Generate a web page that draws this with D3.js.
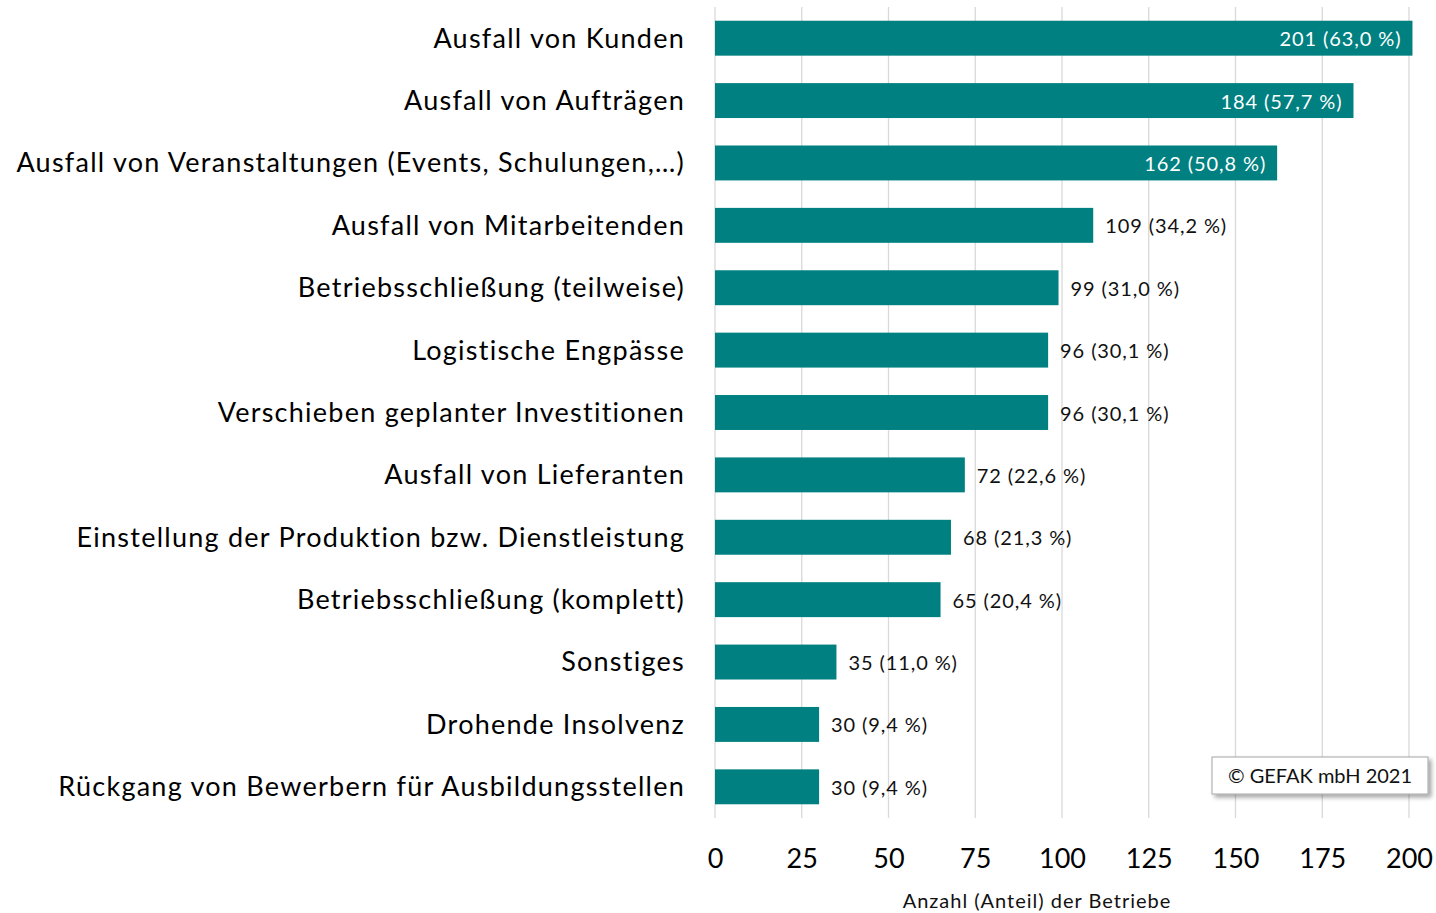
<!DOCTYPE html>
<html>
<head>
<meta charset="utf-8">
<script src="https://cdn.jsdelivr.net/npm/d3@7"></script>
<style>
  body { margin: 0; background: #fff; }
  svg { display: block; font-family: Lato, "Open Sans", sans-serif; }
</style>
</head>
<body>
<svg id="chart" width="1436" height="913"></svg>
<script>
const categories = [
  'Ausfall von Kunden',
  'Ausfall von Aufträgen',
  'Ausfall von Veranstaltungen (Events, Schulungen,…)',
  'Ausfall von Mitarbeitenden',
  'Betriebsschließung (teilweise)',
  'Logistische Engpässe',
  'Verschieben geplanter Investitionen',
  'Ausfall von Lieferanten',
  'Einstellung der Produktion bzw. Dienstleistung',
  'Betriebsschließung (komplett)',
  'Sonstiges',
  'Drohende Insolvenz',
  'Rückgang von Bewerbern für Ausbildungsstellen'
];
const counts = [201, 184, 162, 109, 99, 96, 96, 72, 68, 65, 35, 30, 30];
const shares = ['63,0', '57,7', '50,8', '34,2', '31,0', '30,1', '30,1', '22,6', '21,3', '20,4', '11,0', '9,4', '9,4'];
const ticks = [0, 25, 50, 75, 100, 125, 150, 175, 200];
const insideLabels = 3; // first three bars carry their label inside

const svg = d3.select('#chart');
const plotLeft = 715, plotRight = 1409, plotTop = 7, plotBottom = 818;
const teal = '#008080';

const x = d3.scaleLinear().domain([0, 200]).range([plotLeft, plotRight]);
const y = d3.scaleBand().domain(categories).range([plotTop, plotBottom]).paddingInner(0.44).paddingOuter(0.22);

// gridlines
svg.append('g').selectAll('line')
  .data(ticks)
  .enter().append('line')
  .attr('x1', d => x(d)).attr('x2', d => x(d))
  .attr('y1', plotTop).attr('y2', plotBottom)
  .attr('stroke', '#d9d9d9').attr('stroke-width', 1.3);

// bars
svg.append('g').selectAll('rect')
  .data(counts)
  .enter().append('rect')
  .attr('x', x(0))
  .attr('y', (d, i) => y(categories[i]))
  .attr('width', d => x(d) - x(0))
  .attr('height', y.bandwidth())
  .attr('fill', teal);

// value labels
svg.append('g').selectAll('text')
  .data(counts)
  .enter().append('text')
  .attr('x', (d, i) => i < insideLabels ? x(d) - 11 : x(d) + 12)
  .attr('y', (d, i) => y(categories[i]) + y.bandwidth() / 2 + 1)
  .attr('dy', '0.35em')
  .attr('text-anchor', (d, i) => i < insideLabels ? 'end' : 'start')
  .attr('fill', (d, i) => i < insideLabels ? '#fff' : '#111')
  .attr('font-size', 20)
  .attr('letter-spacing', 0.9)
  .text((d, i) => `${d} (${shares[i]} %)`);

// category labels
svg.append('g').selectAll('text')
  .data(categories)
  .enter().append('text')
  .attr('x', 685)
  .attr('y', d => y(d) + y.bandwidth() / 2)
  .attr('dy', '0.35em')
  .attr('text-anchor', 'end')
  .attr('font-size', 27)
  .attr('letter-spacing', 1.25)
  .attr('fill', '#000')
  .text(d => d);

// x axis tick labels
const xAxis = svg.append('g')
  .attr('transform', `translate(0,${plotBottom})`)
  .call(d3.axisBottom(x).tickValues(ticks).tickSize(0).tickPadding(31));
xAxis.select('.domain').remove();
xAxis.selectAll('text')
  .attr('font-size', 27)
  .attr('font-family', 'Lato, "Open Sans", sans-serif')
  .attr('fill', '#000');

// axis title
svg.append('text')
  .attr('x', 1037).attr('y', 908)
  .attr('text-anchor', 'middle')
  .attr('font-size', 20)
  .attr('letter-spacing', 1)
  .attr('fill', '#111')
  .text('Anzahl (Anteil) der Betriebe');

// copyright box with shadow
const defs = svg.append('defs');
const f = defs.append('filter').attr('id', 'shadow').attr('x', '-10%').attr('y', '-30%').attr('width', '130%').attr('height', '180%');
f.append('feDropShadow').attr('dx', 3).attr('dy', 3).attr('stdDeviation', 2).attr('flood-color', '#000').attr('flood-opacity', 0.35);
svg.append('rect')
  .attr('x', 1212).attr('y', 757).attr('width', 216).attr('height', 37)
  .attr('fill', '#fff').attr('stroke', '#a6a6a6').attr('stroke-width', 1)
  .attr('filter', 'url(#shadow)');
svg.append('text')
  .attr('x', 1320).attr('y', 776).attr('dy', '0.35em')
  .attr('text-anchor', 'middle')
  .attr('font-size', 20)
  .attr('fill', '#111')
  .text('© GEFAK mbH 2021');
</script>
</body>
</html>
